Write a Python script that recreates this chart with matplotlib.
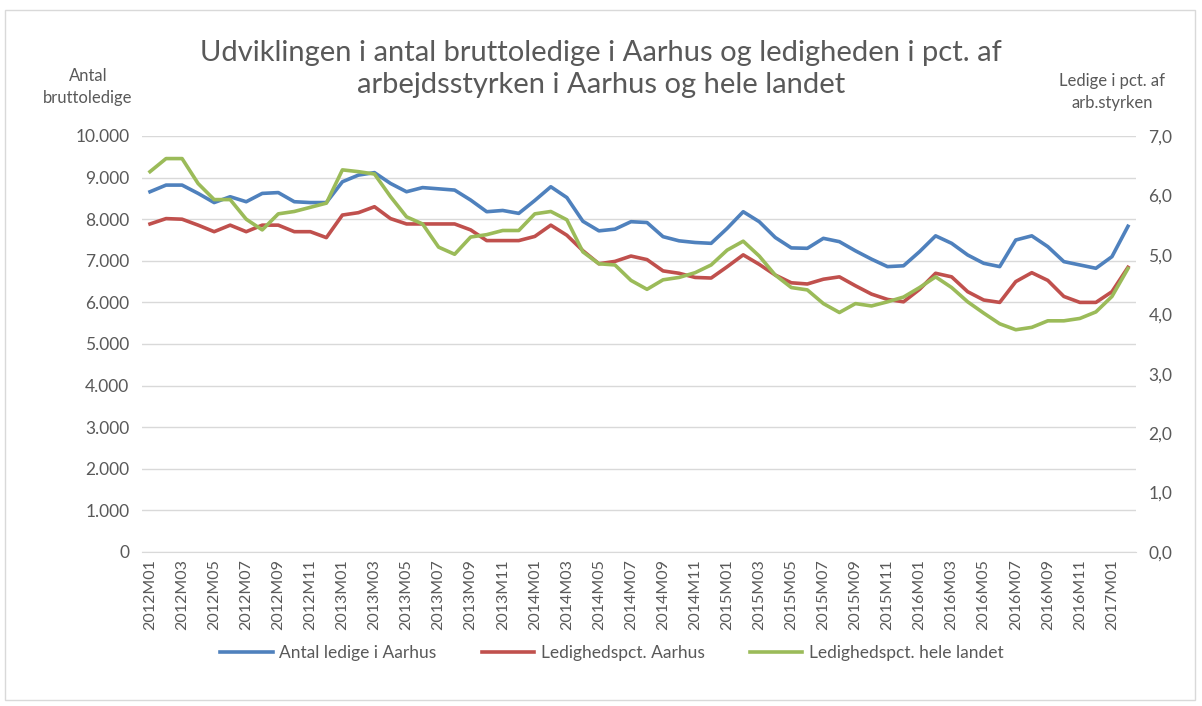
import numpy as np
import matplotlib.pyplot as plt
from matplotlib.patches import Rectangle
from matplotlib.ticker import FuncFormatter

plt.rcParams['font.family'] = ['Lato', 'DejaVu Sans']

# monthly periods 2012M01 .. 2017M02
months = [f"{y}M{m:02d}" for y in range(2012, 2018) for m in range(1, 13)][:62]

antal_aarhus = [8660, 8820, 8820, 8620, 8400, 8540, 8420, 8620, 8640, 8420, 8400, 8400,
                8900, 9060, 9120, 8860, 8660, 8760, 8730, 8700, 8460, 8180, 8210, 8140,
                8450, 8780, 8520, 7950, 7720, 7760, 7940, 7920, 7580, 7480, 7440, 7420,
                7780, 8180, 7940, 7560, 7310, 7300, 7540, 7460, 7240, 7040, 6860, 6880,
                7220, 7600, 7420, 7140, 6940, 6860, 7500, 7600, 7340, 6980, 6900, 6820,
                7100, 7830]

pct_aarhus = [5.52, 5.61, 5.60, 5.50, 5.39, 5.50, 5.39, 5.50, 5.50, 5.39, 5.39, 5.29,
              5.67, 5.71, 5.81, 5.61, 5.52, 5.52, 5.52, 5.52, 5.42, 5.24, 5.24, 5.24,
              5.31, 5.50, 5.33, 5.07, 4.85, 4.89, 4.98, 4.92, 4.73, 4.69, 4.62, 4.61,
              4.80, 5.00, 4.84, 4.66, 4.53, 4.51, 4.59, 4.63, 4.48, 4.34, 4.25, 4.21,
              4.42, 4.69, 4.63, 4.38, 4.24, 4.20, 4.55, 4.70, 4.57, 4.30, 4.20, 4.20,
              4.38, 4.79]

pct_landet = [6.40, 6.62, 6.62, 6.20, 5.93, 5.93, 5.60, 5.42, 5.69, 5.73, 5.80, 5.87,
              6.43, 6.40, 6.36, 5.98, 5.64, 5.52, 5.13, 5.01, 5.30, 5.34, 5.41, 5.41,
              5.69, 5.73, 5.59, 5.05, 4.85, 4.83, 4.57, 4.42, 4.58, 4.62, 4.70, 4.83,
              5.08, 5.23, 4.98, 4.66, 4.45, 4.41, 4.18, 4.03, 4.18, 4.14, 4.21, 4.29,
              4.45, 4.63, 4.45, 4.21, 4.02, 3.84, 3.74, 3.78, 3.89, 3.89, 3.93, 4.04,
              4.30, 4.77]

blue = '#4F81BD'
red = '#C0504D'
green = '#9BBB59'
txt = '#595959'

fig = plt.figure(figsize=(12.02, 7.06), dpi=100)
fig.patches.append(Rectangle((5 / 1202, 6 / 706), 1190 / 1202, 690 / 706, transform=fig.transFigure,
                             fill=False, edgecolor='#D9D9D9', linewidth=1))

ax = fig.add_axes([142 / 1202, 1 - 552 / 706, 994 / 1202, 416 / 706])
ax2 = ax.twinx()

x = np.arange(len(months))
l1, = ax.plot(x, antal_aarhus, color=blue, lw=2.6, solid_joinstyle='round')
l2, = ax2.plot(x, pct_aarhus, color=red, lw=2.6, solid_joinstyle='round')
l3, = ax2.plot(x, pct_landet, color=green, lw=2.6, solid_joinstyle='round')

ax.set_xlim(-0.5, len(months) - 0.5)
ax.set_ylim(0, 10000)
ax2.set_ylim(0, 7)
ax.set_yticks(np.arange(0, 10001, 1000))
ax2.set_yticks(np.arange(0, 7.01, 1))
ax.yaxis.set_major_formatter(FuncFormatter(lambda v, p: f"{int(v):,}".replace(',', '.')))
ax2.yaxis.set_major_formatter(FuncFormatter(lambda v, p: f"{v:.1f}".replace('.', ',')))

ax.set_xticks(x[::2])
ax.set_xticklabels(months[::2], rotation=90)

ax.grid(axis='y', color='#D9D9D9', lw=1)
ax.set_axisbelow(True)
for a in (ax, ax2):
    for s in a.spines.values():
        s.set_visible(False)
    a.tick_params(length=0, labelsize=12.5, labelcolor=txt, pad=9)
ax.spines['bottom'].set_visible(True)
ax.spines['bottom'].set_color('#D9D9D9')
ax.tick_params(axis='x', pad=5, labelsize=11.5)

fig.text(0.5, 1 - 69 / 706, "Udviklingen i antal bruttoledige i Aarhus og ledigheden i pct. af\n"
         "arbejdsstyrken i Aarhus og hele landet", ha='center', va='center',
         fontsize=21, color=txt, linespacing=1.3)
fig.text(88 / 1202, 1 - 87 / 706, "Antal\nbruttoledige", ha='center', va='center',
         fontsize=12, color=txt, linespacing=1.5)
fig.text(1112 / 1202, 1 - 92 / 706, "Ledige i pct. af\narb.styrken", ha='center', va='center',
         fontsize=12, color=txt, linespacing=1.5)

fig.legend([l1, l2, l3], ["Antal ledige i Aarhus", "Ledighedspct. Aarhus", "Ledighedspct. hele landet"],
           loc='center', bbox_to_anchor=(612 / 1202, 1 - 653 / 706), ncol=3, frameon=False,
           fontsize=12.5, labelcolor=txt, handlelength=3.0, columnspacing=2.6, handletextpad=0.4)

fig.savefig('out.png', dpi=100)
